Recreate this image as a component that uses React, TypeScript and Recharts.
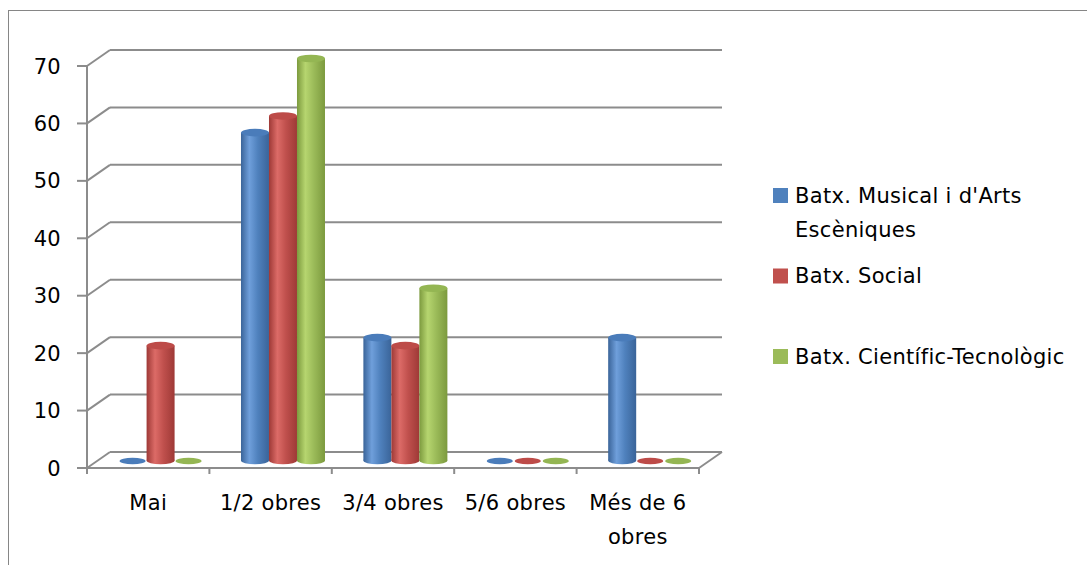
import React from 'react';
import { BarChart, Bar, XAxis, YAxis, CartesianGrid, Legend } from 'recharts';

// ---- data ----
const CATEGORIES = ['Mai', '1/2 obres', '3/4 obres', '5/6 obres', 'Més de 6 obres'];
const MUSICAL = [0, 57.1, 21.4, 0, 21.4];
const SOCIAL = [20, 60, 20, 0, 0];
const CIENTIFIC = [0, 70, 30, 0, 0];
const SERIES_NAMES = ["Batx. Musical i d'Arts Escèniques", 'Batx. Social', 'Batx. Científic-Tecnològic'];
const Y_TICKS = [0, 10, 20, 30, 40, 50, 60, 70];

const data = CATEGORIES.map((c, i) => ({
  cat: c,
  musical: MUSICAL[i],
  social: SOCIAL[i],
  cientific: CIENTIFIC[i],
}));

// ---- styling / layout ----
const W = 1087;
const H = 565;
const PLOT_BOTTOM = 468;
const GX = 23; // back-wall depth offset x
const GY = 16; // back-wall depth offset y
const BX = 12; // bar depth shift x
const BY = -7.5; // bar depth shift y
const GRID = '#8c8c8c';
const FONT = '"DejaVu Sans", "Open Sans", sans-serif';
const FS = 21;
const LS = 0.3;

const KEYS = ['musical', 'social', 'cientific'];
const COLORS: Record<string, { base: string; dark: string; light: string; top: string }> = {
  musical: { base: '#4F81BD', dark: '#3A6499', light: '#6F9FDB', top: '#4A7CBA' },
  social: { base: '#C0504D', dark: '#9E3936', light: '#DC6B67', top: '#BD4B48' },
  cientific: { base: '#9BBB59', dark: '#7C9A3E', light: '#B6D56F', top: '#94B653' },
};

const wrap = (s: string, max: number) => {
  const words = s.split(' ');
  const lines: string[] = [];
  let cur = '';
  words.forEach((w) => {
    const t = cur ? cur + ' ' + w : w;
    if (t.length > max && cur) {
      lines.push(cur);
      cur = w;
    } else cur = t;
  });
  if (cur) lines.push(cur);
  return lines;
};

const makeCylinder = (key: string) => (props: any) => {
  const { x, y, width, height } = props;
  const w = width;
  const ox = x + BX;
  const rx = w / 2;
  const cx = ox + rx;
  const bottom = y + height + BY;
  const top = y + BY;
  const ry = 3.8;
  const fill = `url(#cyl-${key})`;
  if (!height || height < 0.5) {
    return <ellipse cx={cx} cy={bottom + 0.5} rx={rx - 1} ry={3.3} fill={COLORS[key].top} />;
  }
  return (
    <g>
      <ellipse cx={cx} cy={bottom} rx={rx} ry={ry} fill={fill} />
      <rect x={ox} y={top} width={w} height={bottom - top} fill={fill} />
      <ellipse cx={cx} cy={top} rx={rx} ry={ry} fill={COLORS[key].top} />
    </g>
  );
};

const gridLine = (p: any) => {
  const { x1, y1, x2, index } = p;
  const bx1 = x1 + GX;
  const bx2 = x2 + GX;
  const by = y1 - GY;
  const isFloor = Math.abs(y1 - PLOT_BOTTOM) < 1.5;
  const st = { stroke: GRID, strokeWidth: 2 };
  return (
    <g key={`gl-${index}-${y1}`}>
      <line x1={x1} y1={y1} x2={bx1} y2={by} {...st} />
      <line x1={bx1} y1={by} x2={bx2} y2={by} {...st} />
      {isFloor && <line x1={x1} y1={y1} x2={x2} y2={y1} {...st} />}
      {isFloor && <line x1={x2} y1={y1} x2={bx2} y2={by} {...st} />}
    </g>
  );
};

const YTick = (p: any) => (
  <text
    x={p.x}
    y={p.y}
    dy={7.5}
    textAnchor="end"
    fill="#000"
    style={{ fontFamily: FONT, fontSize: FS, letterSpacing: LS }}
  >
    {p.payload.value}
  </text>
);

const XTick = (p: any) => {
  const { x, y, width, index, visibleTicksCount } = p;
  const band = width / visibleTicksCount;
  const lines = wrap(p.payload.value, 10);
  const st = { stroke: GRID, strokeWidth: 2 };
  return (
    <g>
      <line x1={x - band / 2} y1={y} x2={x - band / 2} y2={y + 6} {...st} />
      {index === visibleTicksCount - 1 && (
        <line x1={x + band / 2} y1={y} x2={x + band / 2} y2={y + 6} {...st} />
      )}
      {lines.map((l, i) => (
        <text
          key={i}
          x={x}
          y={y + 42 + i * 34}
          textAnchor="middle"
          fill="#000"
          style={{ fontFamily: FONT, fontSize: FS, letterSpacing: LS }}
        >
          {l}
        </text>
      ))}
    </g>
  );
};

const LegendContent = () => (
  <svg width={327} height={220} style={{ display: 'block', overflow: 'visible' }}>
    {SERIES_NAMES.map((name, i) => {
      const top = 18 + i * 80.5;
      const lines = wrap(name, 26);
      return (
        <g key={i}>
          <rect x={13} y={top} width={15} height={15} fill={COLORS[KEYS[i]].base} />
          {lines.map((l, j) => (
            <text
              key={j}
              x={35}
              y={top + 14.5 + j * 34}
              fill="#000"
              style={{ fontFamily: FONT, fontSize: FS, letterSpacing: LS }}
            >
              {l}
            </text>
          ))}
        </g>
      );
    })}
  </svg>
);

export default function App() {
  return (
    <div style={{ position: 'absolute', left: 0, top: 0, width: W, height: H, background: '#fff' }}>
      <div
        style={{
          position: 'absolute',
          left: 8,
          top: 10,
          width: W - 8,
          height: H - 10,
          borderTop: '1.3px solid #868686',
          borderLeft: '1.3px solid #868686',
          boxSizing: 'border-box',
        }}
      />
      <BarChart
        width={W}
        height={H}
        data={data}
        margin={{ top: 66, right: 388, bottom: 57, left: 27 }}
        barCategoryGap="16%"
        barGap={0}
      >
        <defs>
          {KEYS.map((k) => (
            <linearGradient key={k} id={`cyl-${k}`} x1="0" y1="0" x2="1" y2="0">
              <stop offset="0%" stopColor={COLORS[k].dark} />
              <stop offset="30%" stopColor={COLORS[k].light} />
              <stop offset="60%" stopColor={COLORS[k].base} />
              <stop offset="100%" stopColor={COLORS[k].dark} />
            </linearGradient>
          ))}
        </defs>
        <CartesianGrid horizontal={gridLine} vertical={false} />
        <XAxis
          dataKey="cat"
          axisLine={false}
          tickLine={false}
          tickSize={0}
          tickMargin={0}
          height={40}
          interval={0}
          tick={<XTick />}
        />
        <YAxis
          width={60}
          domain={[0, 70]}
          ticks={Y_TICKS}
          interval={0}
          axisLine={{ stroke: GRID, strokeWidth: 2 }}
          tickLine={{ stroke: GRID, strokeWidth: 2 }}
          tickSize={10}
          tickMargin={16}
          tick={<YTick />}
        />
        <Legend
          layout="vertical"
          align="center"
          verticalAlign="middle"
          wrapperStyle={{ left: 760, top: 170, width: 327, height: 220 }}
          content={<LegendContent />}
        />
        <Bar dataKey="musical" name={SERIES_NAMES[0]} fill={COLORS.musical.base} shape={makeCylinder('musical')} isAnimationActive={false} />
        <Bar dataKey="social" name={SERIES_NAMES[1]} fill={COLORS.social.base} shape={makeCylinder('social')} isAnimationActive={false} />
        <Bar dataKey="cientific" name={SERIES_NAMES[2]} fill={COLORS.cientific.base} shape={makeCylinder('cientific')} isAnimationActive={false} />
      </BarChart>
    </div>
  );
}
